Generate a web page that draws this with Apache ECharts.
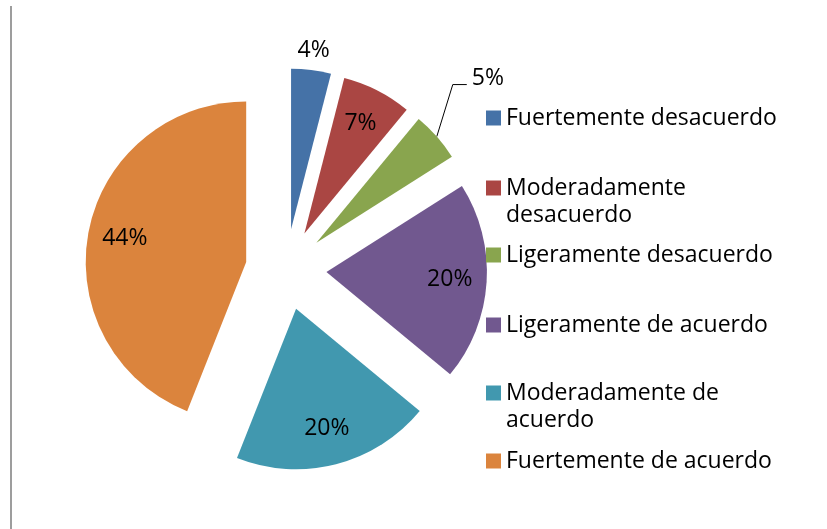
<!DOCTYPE html>
<html>
<head>
<meta charset="utf-8">
<style>
html, body { margin: 0; padding: 0; background: #fff; }
#main { width: 827px; height: 529px; }
</style>
<script src="https://cdn.jsdelivr.net/npm/echarts@6/dist/echarts.min.js"></script>
</head>
<body>
<div id="main"></div>
<script>
var categories = ['Fuertemente desacuerdo', 'Moderadamente desacuerdo', 'Ligeramente desacuerdo',
    'Ligeramente de acuerdo', 'Moderadamente de acuerdo', 'Fuertemente de acuerdo'];
var values = [4, 7, 5, 20, 20, 44];
var colors = ['#4572A7', '#AA4643', '#89A54E', '#71588F', '#4198AF', '#DB843D'];

var FONT = 'Open Sans';
var center = [286, 269.5];
var R = 160.5;
var explode = 40.5;

var labelText = {
    color: '#000',
    fontFamily: FONT,
    fontSize: 23
};

// items whose label sits inside the slice / above it / with leader line
var insideIdx = [1, 3, 4, 5];
var aboveIdx = [0];
var leaderIdx = [2];

function pieData(showFn) {
    return categories.map(function (name, i) {
        var item = { name: name, value: values[i], selected: true };
        var s = showFn(i);
        item.label = { show: !!s };
        if (s === 'leader') {
            item.label.position = 'outside';
            item.labelLine = { show: true, length: 88, length2: -36, lineStyle: { color: '#000', width: 1 } };
        }
        return item;
    });
}

var baseSeries = {
    type: 'pie',
    center: center,
    startAngle: 90,
    clockwise: true,
    selectedMode: 'multiple',
    selectedOffset: explode,
    avoidLabelOverlap: false,
    silent: true,
    animation: false
};

var option = {
    animation: false,
    color: colors,
    graphic: [{
        type: 'rect',
        x: 10, y: 6,
        shape: { width: 2, height: 530 },
        style: { fill: '#9d9d9d' }
    }],
    legend: categories.map(function (name, i) {
        var tops = [104.5, 147.5, 241.5, 311.5, 352.5, 447.5];
        var wrapped = (i === 1 || i === 4);
        return {
            data: [name],
            orient: 'vertical',
            left: 486,
            top: tops[i],
            padding: 0,
            icon: 'rect',
            itemWidth: 15,
            itemHeight: 15,
            selectedMode: false,
            // wrapped entries: empty first line keeps the square level with the first text line
            formatter: function (n) { return wrapped ? '\n' + n : n; },
            textStyle: {
                color: '#000',
                fontFamily: FONT,
                fontSize: 23,
                lineHeight: 27,
                width: 300,
                overflow: 'break'
            }
        };
    }),
    series: [
        Object.assign({}, baseSeries, {
            name: 'main',
            radius: [0, R],
            label: { show: false },
            labelLine: { show: false },
            data: pieData(function () { return false; })
        }),
        Object.assign({}, baseSeries, {
            name: 'labels',
            radius: [80.7, R],
            itemStyle: { color: 'rgba(0,0,0,0)' },
            label: Object.assign({ position: 'inside', formatter: '{c}%' }, labelText),
            labelLine: { show: false },
            labelLayout: function (p) {
                if (leaderIdx.indexOf(p.dataIndex) < 0 || !p.labelLinePoints) return {};
                var pts = p.labelLinePoints.map(function (q) { return q.slice(); });
                pts[1] = [pts[0][0] + 16, pts[0][1] - 52];
                pts[2] = [pts[1][0] + 14, pts[1][1]];
                return { labelLinePoints: pts };
            },
            data: pieData(function (i) {
                if (insideIdx.indexOf(i) >= 0) return 'inside';
                if (leaderIdx.indexOf(i) >= 0) return 'leader';
                return false;
            })
        }),
        Object.assign({}, baseSeries, {
            name: 'labelsAbove',
            radius: [161, 193],
            itemStyle: { color: 'rgba(0,0,0,0)' },
            label: Object.assign({ position: 'inside', formatter: '{c}%' }, labelText),
            labelLine: { show: false },
            data: pieData(function (i) { return aboveIdx.indexOf(i) >= 0 ? 'inside' : false; })
        })
    ]
};

var chart = echarts.init(document.getElementById('main'));
chart.setOption(option);
</script>
</body>
</html>
